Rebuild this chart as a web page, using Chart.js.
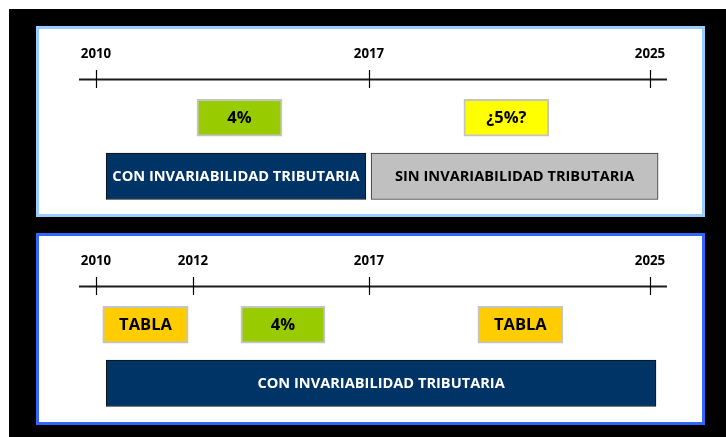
<!DOCTYPE html>
<html><head><meta charset="utf-8">
<script src="https://cdn.jsdelivr.net/npm/chart.js@4"></script>
<style>
html,body{margin:0;padding:0;background:#fff;width:726px;height:437px;overflow:hidden}
#frame{position:absolute;left:9px;top:9px;width:717px;height:428px;background:#000}
.panel{position:absolute;left:36px;width:669px;box-sizing:border-box;background:#fff}
#p1{top:26px;height:191px;border:3px solid #99ccff}
#p2{top:233px;height:192px;border:3px solid #3366ff}
.panel canvas{position:absolute;left:0;top:0}
</style></head>
<body>
<div id="frame"></div>
<div class="panel" id="p1"><canvas id="c1" width="663" height="185"></canvas></div>
<div class="panel" id="p2"><canvas id="c2" width="663" height="186"></canvas></div>
<script>
// ---------- DATA ----------
// Panel 1
const p1TickYears  = [2010, 2017, 2025];
const p1TickLabels = ['2010', '2017', '2025'];
const p1Labels = ['4%', '¿5%?', 'CON INVARIABILIDAD TRIBUTARIA', 'SIN INVARIABILIDAD TRIBUTARIA'];
const p1Rows   = ['tasa', 'tasa', 'regimen', 'regimen'];
const p1Start  = [2012.59, 2019.70, 2010.26, 2017.06];
const p1End    = [2014.77, 2022.12, 2016.92, 2025.23];
// Panel 2
const p2TickYears  = [2010, 2012, 2017, 2025];
const p2TickLabels = ['2010', '2012', '2017', '2025'];
const p2Labels = ['TABLA', '4%', 'TABLA', 'CON INVARIABILIDAD TRIBUTARIA'];
const p2Rows   = ['tasa', 'tasa', 'tasa', 'regimen'];
const p2Start  = [2010.14, 2013.36, 2020.10, 2010.21];
const p2End    = [2011.90, 2015.75, 2022.52, 2025.17];
const rowCategories = ['tasa', 'regimen'];

// ---------- STYLES ----------
const styleBox = {
  '4%':    {fill:'#99cc00', border:'#c4c4c4', bw:2, text:'#000', size:16.5},
  '¿5%?':  {fill:'#ffff00', border:'#c4c4c4', bw:2, text:'#000', size:16.5},
  'TABLA': {fill:'#ffcc00', border:'#c4c4c4', bw:2, text:'#000', size:16.5},
  'CON INVARIABILIDAD TRIBUTARIA': {fill:'#003366', border:'#111', bw:1, text:'#fff', size:14.6},
  'SIN INVARIABILIDAD TRIBUTARIA': {fill:'#c0c0c0', border:'#333', bw:1, text:'#000', size:14.6}
};
const rowThickness = {tasa: 37, regimen: 46.5};
// schematic (non-uniform) timeline: fraction of axis width at which each year sits
const scaleStops = {
  c1: [[2010, 0.0289], [2017, 0.4932], [2025, 0.9711]],
  c2: [[2010, 0.0289], [2012, 0.1939], [2017, 0.4932], [2025, 0.9711]]
};

Chart.defaults.font.family = "'Open Sans', sans-serif";
Chart.defaults.font.weight = 'bold';
Chart.defaults.color = '#000';

class TimelineScale extends Chart.LinearScale {
  _stops() { return scaleStops[this.chart.canvas.id]; }
  getPixelForValue(v) {
    const s = this._stops();
    let i = 1;
    while (i < s.length - 1 && v > s[i][0]) i++;
    const [y0, f0] = s[i - 1], [y1, f1] = s[i];
    const f = f0 + (v - y0) * (f1 - f0) / (y1 - y0);
    return this.left + f * this.width;
  }
  getValueForPixel(p) {
    const s = this._stops();
    const f = (p - this.left) / this.width;
    let i = 1;
    while (i < s.length - 1 && f > s[i][1]) i++;
    const [y0, f0] = s[i - 1], [y1, f1] = s[i];
    return y0 + (f - f0) * (y1 - y0) / (f1 - f0);
  }
}
TimelineScale.id = 'timeline';
TimelineScale.defaults = Chart.LinearScale.defaults;
Chart.register(TimelineScale);

const decoPlugin = {
  id: 'timelineDeco',
  afterDatasetsDraw(chart) {
    const {ctx, chartArea, scales: {x}} = chart;
    const yLine = chartArea.top - 9;
    ctx.save();
    ctx.strokeStyle = '#1a1a1a';
    ctx.lineWidth = 2;
    ctx.beginPath();
    ctx.moveTo(chartArea.left, yLine);
    ctx.lineTo(chartArea.right, yLine);
    ctx.stroke();
    ctx.lineWidth = 1.2;
    ctx.strokeStyle = '#000';
    x.ticks.forEach((t, i) => {
      const px = Math.round(x.getPixelForTick(i)) + 0.5;
      ctx.beginPath();
      ctx.moveTo(px, yLine - 9.5);
      ctx.lineTo(px, yLine + 8.5);
      ctx.stroke();
    });
    chart.data.datasets.forEach((ds, di) => {
      const meta = chart.getDatasetMeta(di);
      const st = styleBox[ds.label];
      meta.data.forEach(bar => {
        const p = bar.getProps(['x', 'base', 'y'], true);
        ctx.fillStyle = st.text;
        ctx.font = 'bold ' + st.size + "px 'Open Sans', sans-serif";
        ctx.textAlign = 'center';
        ctx.textBaseline = 'middle';
        ctx.fillText(ds.label, (p.x + p.base) / 2, p.y + 1);
      });
    });
    ctx.restore();
  }
};

function makeTimeline(id, tickYears, tickLabels, labels, rows, starts, ends, padBottom) {
  const datasets = labels.map((lab, i) => {
    const st = styleBox[lab];
    return {
      label: lab,
      data: [{y: rows[i], x: [starts[i], ends[i]]}],
      backgroundColor: st.fill,
      borderColor: st.border,
      borderWidth: st.bw,
      borderSkipped: false,
      barThickness: rowThickness[rows[i]],
      grouped: false
    };
  });
  return new Chart(document.getElementById(id), {
    type: 'bar',
    data: {labels: rowCategories, datasets},
    options: {
      indexAxis: 'y',
      responsive: false,
      animation: false,
      layout: {padding: {left: 40, right: 35, top: 0, bottom: padBottom}},
      plugins: {legend: {display: false}, tooltip: {enabled: false}},
      scales: {
        x: {
          type: 'timeline',
          position: 'top',
          min: 2009, max: 2026,
          grid: {display: false},
          border: {display: false},
          afterBuildTicks: s => { s.ticks = tickYears.map(v => ({value: v})); },
          afterFit: s => { s.height = 59.5; },
          ticks: {
            autoSkip: false, maxRotation: 0, padding: 18,
            font: {size: 13.3, weight: 'bold'}, color: '#000',
            callback: (v, i) => tickLabels[i]
          }
        },
        y: {type: 'category', labels: rowCategories, display: false, offset: true}
      }
    },
    plugins: [decoPlugin]
  });
}

makeTimeline('c1', p1TickYears, p1TickLabels, p1Labels, p1Rows, p1Start, p1End, 8.5);
makeTimeline('c2', p2TickYears, p2TickLabels, p2Labels, p2Rows, p2Start, p2End, 9.5);
</script>
</body></html>
